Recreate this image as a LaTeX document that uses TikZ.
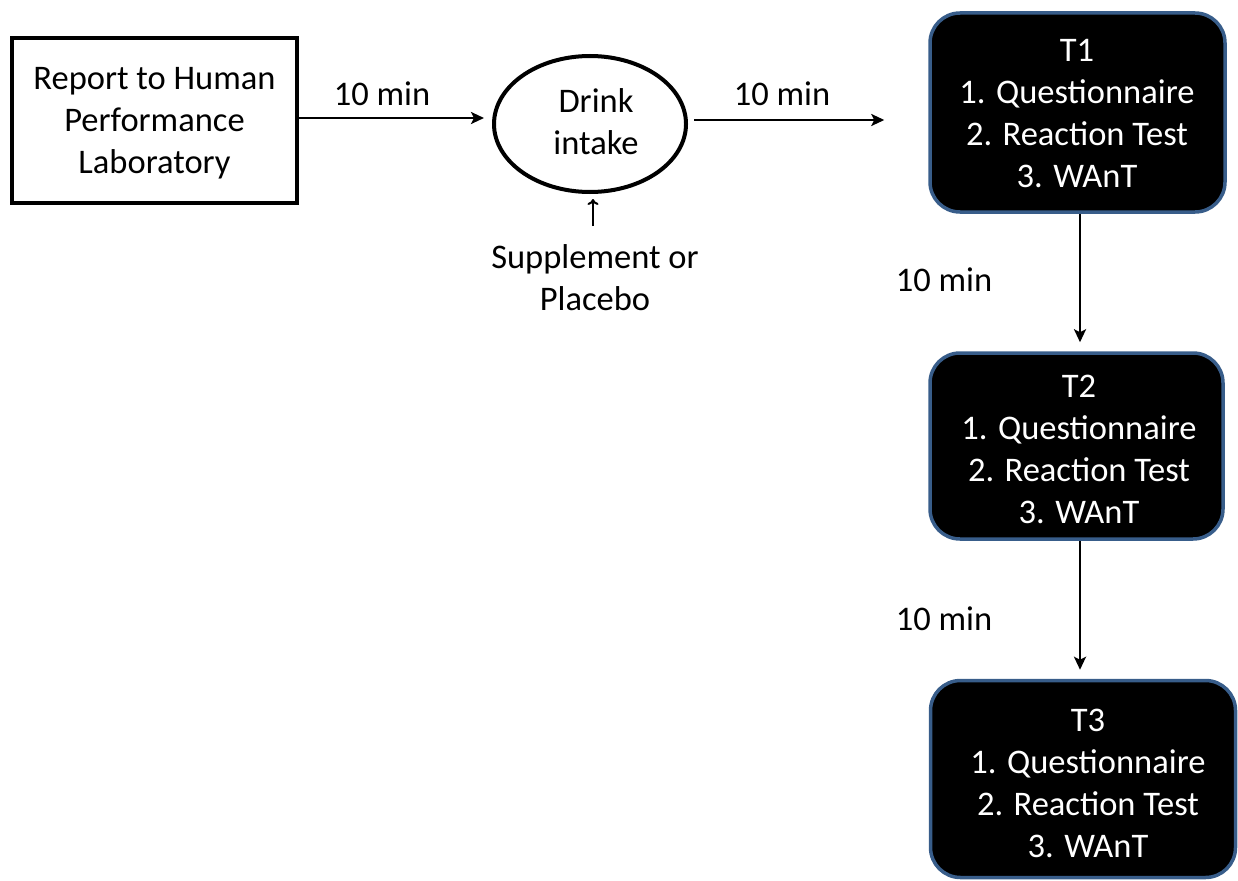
\documentclass[tikz,border=0pt]{standalone}
\usepackage{fontspec}
\setmainfont{Carlito}
\usetikzlibrary{arrows.meta,shapes.geometric}
\definecolor{tborder}{RGB}{56,93,138}
\begin{document}
\begin{tikzpicture}[x=1pt,y=-1pt,
  txt/.style={font=\fontsize{34.5}{42}\selectfont,align=center},
  plainbox/.style={draw=black,line width=4pt,fill=white,inner sep=0pt},
  tbox/.style={draw=tborder,line width=3.5pt,fill=black,rounded corners=30pt,text=white,inner sep=0pt},
  conn/.style={line width=2.5pt,-{Stealth[length=13pt,width=12pt,inset=3pt]}},
  lbl/.style={font=\fontsize{34.5}{42}\selectfont}]
\useasboundingbox (0,0) rectangle (1238,880);
\node[plainbox,minimum width=285pt,minimum height=165pt] (rep) at (154.5,120.5) {};
\node[txt] (reptxt) at (154.5,123) {Report to Human\\Performance\\Laboratory};
\node[draw=black,line width=4pt,ellipse,minimum width=192pt,minimum height=136pt,inner sep=0pt] (drink) at (590,124) {};
\node[txt] (drinktxt) at (596,122) {Drink\\intake};
\node[tbox,minimum width=295pt,minimum height=199pt] (t1) at (1077.5,112.5) {};
\node[txt,text=white] (t1txt) at (1077,114) {T1\\1. Questionnaire\\2. Reaction Test\\3. WAnT};
\node[tbox,minimum width=293pt,minimum height=186pt] (t2) at (1076.5,446) {};
\node[txt,text=white] (t2txt) at (1079,449) {T2\\1. Questionnaire\\2. Reaction Test\\3. WAnT};
\node[tbox,minimum width=305pt,minimum height=197pt] (t3) at (1083,779) {};
\node[txt,text=white] (t3txt) at (1088,783) {T3\\1. Questionnaire\\2. Reaction Test\\3. WAnT};
\node[txt] (supp) at (595,278) {Supplement or\\Placebo};
\draw[conn,shorten >=8pt] ([yshift=2.5pt]rep.east) -- ([yshift=2.5pt]rep.east -| drink.west);
\node[lbl] (l1) at (382,94) {10 min};
\draw[conn,shorten <=6pt,shorten >=44pt] ([yshift=4pt]drink.east) -- ([yshift=4pt]drink.east -| t1.west);
\node[lbl] (l2) at (782,94) {10 min};
\coordinate (s1) at (593,226);
\draw[line width=2pt,-{To[length=6pt,width=11pt]},shorten >=5pt] (s1) -- (drink.south -| s1);
\draw[conn,shorten >=9pt] ([xshift=2.5pt]t1.south) -- ([xshift=2.5pt]t1.south |- t2.north);
\node[lbl] (l3) at (944,280) {10 min};
\draw[conn,shorten >=9pt] ([xshift=3.5pt]t2.south) -- ([xshift=3.5pt]t2.south |- t3.north);
\node[lbl] (l4) at (944,619) {10 min};
\end{tikzpicture}
\end{document}
